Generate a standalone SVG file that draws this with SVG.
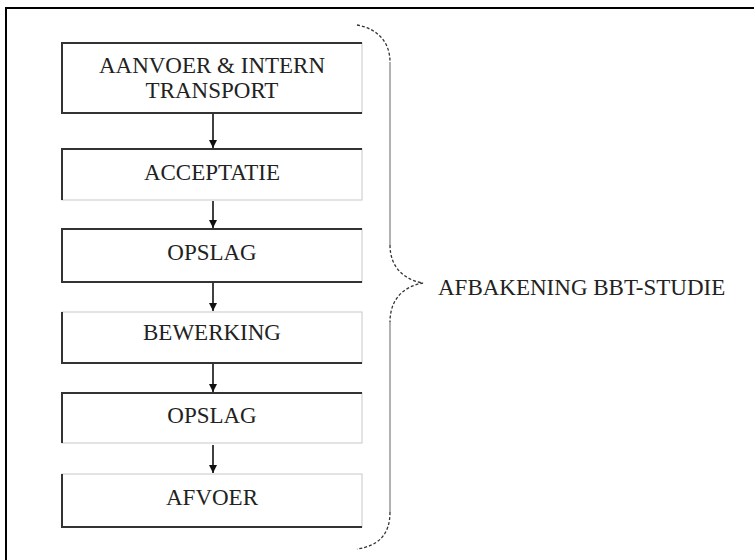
<svg xmlns="http://www.w3.org/2000/svg" width="754" height="560" viewBox="0 0 754 560">
<style>
.box{fill:#fff;stroke:#c8c8c8;stroke-width:1}
.edge{fill:none;stroke:#333;stroke-width:2}
.lbl{font-family:"Liberation Serif","Times New Roman",serif;font-size:23px;fill:#222;text-anchor:middle}
.conn{stroke:#111;stroke-width:1.6;fill:none}
.brace-d{fill:none;stroke:#333;stroke-width:1.3;stroke-dasharray:3,2}
.brace-s{fill:none;stroke:#888;stroke-width:1.3}
</style>
<defs>
<marker id="ah" viewBox="0 0 10 10" refX="10" refY="5" markerWidth="5" markerHeight="5" orient="auto" markerUnits="strokeWidth">
<path d="M0,0 L10,5 L0,10 z" fill="#111"/>
</marker>
</defs>
<rect x="0" y="0" width="754" height="560" fill="#fff"/>
<g id="frame">
<line x1="6" y1="8" x2="754" y2="8" stroke="#000" stroke-width="2"/>
<line x1="6" y1="7" x2="6" y2="560" stroke="#000" stroke-width="2"/>
</g>
<g id="n1">
<rect class="box" x="62" y="43" width="300" height="70"/>
<path class="edge" d="M362,43 H62 V113 H362"/>
<text class="lbl" x="212" y="73">AANVOER &amp; INTERN</text>
<text class="lbl" x="212" y="98">TRANSPORT</text>
</g>
<g id="n2">
<rect class="box" x="62" y="149" width="300" height="51"/>
<path class="edge" d="M362,149 H62 V200"/>
<text class="lbl" x="212" y="180">ACCEPTATIE</text>
</g>
<g id="n3">
<rect class="box" x="62" y="229" width="300" height="53"/>
<path class="edge" d="M362,229 H62 V282 H362"/>
<text class="lbl" x="212" y="260">OPSLAG</text>
</g>
<g id="n4">
<rect class="box" x="62" y="312" width="300" height="51"/>
<path class="edge" d="M62,312 V363 H362"/>
<text class="lbl" x="212" y="340">BEWERKING</text>
</g>
<g id="n5">
<rect class="box" x="62" y="393" width="300" height="50"/>
<path class="edge" d="M362,393 H62 V443"/>
<text class="lbl" x="212" y="423">OPSLAG</text>
</g>
<g id="n6">
<rect class="box" x="62" y="474" width="300" height="53"/>
<path class="edge" d="M62,474 V527 H362"/>
<text class="lbl" x="212" y="505">AFVOER</text>
</g>
<g id="connectors">
<line class="conn" x1="213" y1="114" x2="213" y2="148" marker-end="url(#ah)"/>
<line class="conn" x1="213" y1="201" x2="213" y2="228" marker-end="url(#ah)"/>
<line class="conn" x1="213" y1="283" x2="213" y2="311" marker-end="url(#ah)"/>
<line class="conn" x1="213" y1="364" x2="213" y2="392" marker-end="url(#ah)"/>
<line class="conn" x1="213" y1="445" x2="213" y2="473" marker-end="url(#ah)"/>
</g>
<g id="brace">
<path class="brace-d" d="M357,25 C375,28 390,40 390,62"/>
<path class="brace-s" d="M390,62 L390,245"/>
<path class="brace-d" d="M390,245 C390,268 405,280 423,283 C405,286 390,298 390,322"/>
<path class="brace-s" d="M390,322 L390,512"/>
<path class="brace-d" d="M390,512 C390,535 378,546 357,549"/>
<text id="brace-label" x="438" y="295" font-family="'Liberation Serif','Times New Roman',serif" font-size="23" fill="#222">AFBAKENING BBT-STUDIE</text>
</g>
</svg>
